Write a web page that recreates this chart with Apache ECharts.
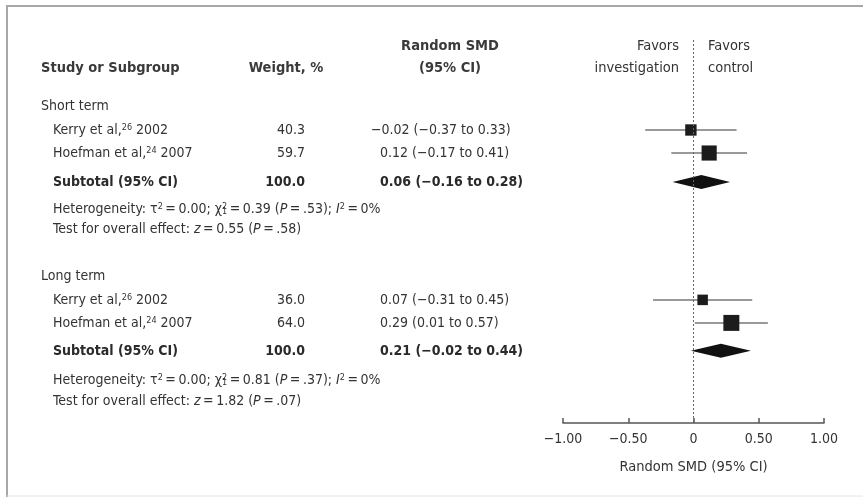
<!DOCTYPE html>
<html><head><meta charset="utf-8">
<script src="https://cdn.jsdelivr.net/npm/echarts@6/dist/echarts.min.js"></script>
<style>html,body{margin:0;padding:0;background:#fff}#c{width:863px;height:502px}</style>
</head><body><div id="c"></div>
<script>
// ---------- data ----------
const groups = ['Short term', 'Long term'];
const studyNames = ['Kerry et al,', 'Hoefman et al,', 'Kerry et al,', 'Hoefman et al,'];
const studyRefs = ['26', '24', '26', '24'];
const studyYears = ['2002', '2007', '2002', '2007'];
const weights = [40.3, 59.7, 36.0, 64.0];
const smd = [-0.02, 0.12, 0.07, 0.29];
const ciLow = [-0.37, -0.17, -0.31, 0.01];
const ciHigh = [0.33, 0.41, 0.45, 0.57];
const subtotalWeight = [100.0, 100.0];
const subtotalSmd = [0.06, 0.21];
const subtotalLow = [-0.16, -0.02];
const subtotalHigh = [0.28, 0.44];
const tau2 = ['0.00', '0.00'];
const chi2 = ['0.39', '0.81'];
const hetP = ['.53', '.37'];
const i2 = ['0', '0'];
const zVal = ['0.55', '1.82'];
const zP = ['.58', '.07'];
const xTicks = [-1, -0.5, 0, 0.5, 1];

// ---------- layout (row positions in line units) ----------
const headRow = [0.26, 1.19];
const groupRow = [2.81, 10.04];
const studyRow = [3.83, 4.81, 11.06, 12.04];
const subtotalRow = [6.04, 13.23];
const hetRow = [7.19, 14.47];
const testRow = [8.04, 15.40];

const FONT = "'Liberation Sans Narrow','DejaVu Sans Condensed','Arial Narrow',sans-serif";
const TXT = '#333';
const EQ = '\u2009=\u2009';

const fmtCI = (m, l, h) => {
  const f = v => (v < 0 ? '\u2212' : '') + Math.abs(v).toFixed(2);
  return f(m) + ' (' + f(l) + ' to ' + f(h) + ')';
};

const chart = echarts.init(document.getElementById('c'), null, {renderer: 'canvas'});

chart.setOption({
  backgroundColor: '#fff',
  animation: false,
  grid: {left: 563, right: 39, top: 40, bottom: 79},
  xAxis: {
    type: 'value', min: xTicks[0], max: xTicks[xTicks.length - 1], interval: xTicks[1] - xTicks[0],
    axisLine: {show: true, onZero: false, lineStyle: {color: '#555', width: 1.5}},
    axisTick: {show: true, inside: true, length: 5, lineStyle: {color: '#555', width: 1.5}},
    splitLine: {show: false},
    axisLabel: {
      margin: 9, color: TXT, fontFamily: FONT, fontSize: 14,
      formatter: v => v === 0 ? '0' : (v < 0 ? '\u2212' : '') + Math.abs(v).toFixed(2)
    },
    name: 'Random SMD (95% CI)', nameLocation: 'middle', nameGap: 37,
    nameTextStyle: {color: TXT, fontFamily: FONT, fontSize: 14.5}
  },
  yAxis: {type: 'value', min: 0, max: 16.3, inverse: true, show: false},
  series: [
    {
      type: 'custom',
      data: smd.map((v, i) => [v, ciLow[i], ciHigh[i], studyRow[i], weights[i]]),
      renderItem(params, api) {
        const y = api.value(3);
        const c = api.coord([api.value(0), y]);
        const l = api.coord([api.value(1), y]);
        const h = api.coord([api.value(2), y]);
        const s = 3.5 + 0.195 * api.value(4);
        return {type: 'group', children: [
          {type: 'line', shape: {x1: l[0], y1: l[1], x2: h[0], y2: h[1]}, style: {stroke: '#777', lineWidth: 1.5}},
          {type: 'rect', shape: {x: c[0] - s / 2, y: c[1] - s / 2, width: s, height: s}, style: {fill: '#1c1c1c'}}
        ]};
      },
      markLine: {
        silent: true, symbol: 'none', label: {show: false},
        lineStyle: {color: '#666', type: [2, 2], width: 1},
        data: [{xAxis: 0}]
      },
      z: 3
    },
    {
      type: 'custom',
      data: subtotalSmd.map((v, i) => [v, subtotalLow[i], subtotalHigh[i], subtotalRow[i]]),
      renderItem(params, api) {
        const y = api.value(3);
        const c = api.coord([api.value(0), y]);
        const l = api.coord([api.value(1), y]);
        const h = api.coord([api.value(2), y]);
        const hh = 7;
        return {type: 'polygon', shape: {points: [[l[0], l[1]], [c[0], c[1] - hh], [h[0], h[1]], [c[0], c[1] + hh]]},
          style: {fill: '#111'}};
      },
      z: 3
    }
  ]
});

const py = r => chart.convertToPixel({yAxisIndex: 0}, r);
const T = (x, r, text, o) => Object.assign({
  type: 'text', x: x, y: py(r),
  style: Object.assign({text: text, fill: TXT, font: '14px ' + FONT, textAlign: 'left', textVerticalAlign: 'middle'}, o && o.style || {})
}, o && o.el || {});

const COL_NAME = 41, COL_STUDY = 53, COL_W = 305, COL_CI = 380, MINUS_HANG = 9;
const g = [];
// frame
g.push({type: 'line', shape: {x1: 7, y1: 6, x2: 863, y2: 6}, style: {stroke: '#a8a8a8', lineWidth: 2}});
g.push({type: 'line', shape: {x1: 7, y1: 5, x2: 7, y2: 497}, style: {stroke: '#a8a8a8', lineWidth: 2}});
g.push({type: 'line', shape: {x1: 7, y1: 496, x2: 863, y2: 496}, style: {stroke: '#e4e4e4', lineWidth: 1}});

// headers
const HB = 'bold 14.5px ' + FONT;
g.push(T(COL_NAME, headRow[1], 'Study or Subgroup', {style: {font: HB, fill: '#3a3a3a'}}));
g.push(T(286, headRow[1], 'Weight, %', {style: {font: HB, fill: '#3a3a3a', textAlign: 'center'}}));
g.push(T(450, headRow[0], 'Random SMD', {style: {font: HB, fill: '#3a3a3a', textAlign: 'center'}}));
g.push(T(450, headRow[1], '(95% CI)', {style: {font: HB, fill: '#3a3a3a', textAlign: 'center'}}));
g.push(T(679, headRow[0], 'Favors', {style: {font: '14.5px ' + FONT, textAlign: 'right'}}));
g.push(T(679, headRow[1], 'investigation', {style: {font: '14.5px ' + FONT, textAlign: 'right'}}));
g.push(T(708, headRow[0], 'Favors', {style: {font: '14.5px ' + FONT}}));
g.push(T(708, headRow[1], 'control', {style: {font: '14.5px ' + FONT}}));

const rich = {
  n: {fontFamily: FONT, fontSize: 14, color: TXT},
  i: {fontFamily: FONT, fontSize: 14, fontStyle: 'italic', color: TXT},
  sup: {fontFamily: FONT, fontSize: 9, color: TXT, verticalAlign: 'top'},
  supz: {fontFamily: FONT, fontSize: 9, color: TXT, verticalAlign: 'top', width: 0.1},
  sub: {fontFamily: FONT, fontSize: 9, color: TXT, verticalAlign: 'bottom'}
};
const R = (x, r, str) => ({
  type: 'text', x: x, y: py(r),
  style: {text: str, rich: rich, font: '14px ' + FONT, fill: TXT, textAlign: 'left', textVerticalAlign: 'middle'}
});

for (let k = 0; k < groups.length; k++) {
  g.push(T(COL_NAME, groupRow[k], groups[k]));
  for (let i = 0; i < studyNames.length; i++) {
    if ((i < 2 ? 0 : 1) !== k) continue;
    g.push(R(COL_STUDY, studyRow[i], '{n|' + studyNames[i] + '}{sup|' + studyRefs[i] + '}{n| ' + studyYears[i] + '}'));
    g.push(T(COL_W, studyRow[i], weights[i].toFixed(1), {style: {textAlign: 'right'}}));
    const ci = fmtCI(smd[i], ciLow[i], ciHigh[i]);
    g.push(T(COL_CI - (smd[i] < 0 ? MINUS_HANG : 0), studyRow[i], ci));
  }
  const B = 'bold 14px ' + FONT;
  g.push(T(COL_STUDY, subtotalRow[k], 'Subtotal (95% CI)', {style: {font: B, fill: '#2a2a2a'}}));
  g.push(T(COL_W, subtotalRow[k], subtotalWeight[k].toFixed(1), {style: {font: B, fill: '#2a2a2a', textAlign: 'right'}}));
  g.push(T(COL_CI - (subtotalSmd[k] < 0 ? MINUS_HANG : 0), subtotalRow[k],
    fmtCI(subtotalSmd[k], subtotalLow[k], subtotalHigh[k]), {style: {font: B, fill: '#2a2a2a'}}));
  g.push(R(COL_STUDY, hetRow[k],
    '{n|Heterogeneity: \u03C4}{sup|2}{n|' + EQ + tau2[k] + '; \u03C7}{supz|2}{sub|1}{n|' + EQ + chi2[k] +
    ' (}{i|P}{n|' + EQ + hetP[k] + '); }{i|I}{sup|2}{n|' + EQ + i2[k] + '%}'));
  g.push(R(COL_STUDY, testRow[k],
    '{n|Test for overall effect: }{i|z}{n|' + EQ + zVal[k] + ' (}{i|P}{n|' + EQ + zP[k] + ')}'));
}

chart.setOption({graphic: {elements: g}});
</script>
</body></html>
